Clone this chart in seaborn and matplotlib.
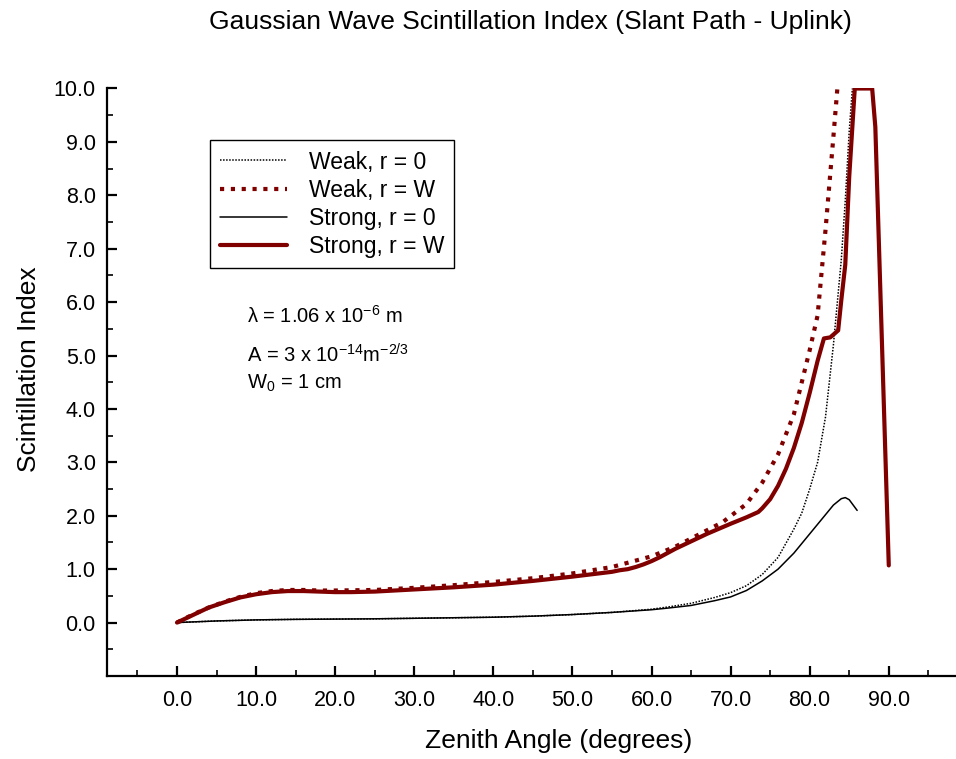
import numpy as np
import pandas as pd
import matplotlib
matplotlib.use("Agg")
import matplotlib.pyplot as plt
import seaborn as sns
from matplotlib.ticker import FixedLocator

# ---- data ----
weak0_x = [0, 5, 10, 15, 20, 25, 30, 35, 40, 45, 50, 55, 60, 62, 65, 68, 70, 72, 74, 76, 78, 79, 80, 81, 82, 83, 83.5, 84, 84.5, 85, 85.4]
weak0_y = [0, 0.03, 0.05, 0.06, 0.065, 0.07, 0.08, 0.09, 0.1, 0.12, 0.15, 0.19, 0.25, 0.29, 0.36, 0.47, 0.56, 0.69, 0.9, 1.22, 1.75, 2.05, 2.5, 3.0, 3.85, 5.2, 6.0, 6.8, 7.9, 9.2, 10.0]

weakW_x = [0, 2, 4, 6, 8, 10, 12, 14, 16, 18, 20, 25, 30, 35, 40, 45, 50, 55, 60, 63, 66, 69, 72, 74, 76, 78, 80, 81, 82, 83, 83.5]
weakW_y = [0, 0.15, 0.28, 0.39, 0.48, 0.55, 0.59, 0.61, 0.61, 0.6, 0.6, 0.61, 0.65, 0.7, 0.76, 0.83, 0.92, 1.04, 1.24, 1.42, 1.65, 1.88, 2.22, 2.62, 3.15, 3.9, 5.1, 5.75, 7.35, 9.1, 10.0]

strong0_x = [0, 5, 10, 15, 20, 25, 30, 35, 40, 45, 50, 55, 60, 62, 65, 68, 70, 72, 74, 76, 78, 80, 82, 83, 84, 84.5, 85, 86]
strong0_y = [0, 0.03, 0.05, 0.06, 0.065, 0.07, 0.08, 0.09, 0.1, 0.12, 0.15, 0.19, 0.24, 0.27, 0.32, 0.41, 0.48, 0.6, 0.78, 1.0, 1.3, 1.66, 2.02, 2.2, 2.32, 2.34, 2.3, 2.1]

strongW_x = [0, 2, 4, 6, 8, 10, 12, 14, 16, 18, 20, 22, 25, 30, 35, 40, 45, 50, 55, 56, 57, 58, 59, 60, 61, 62, 63, 65, 67, 70, 72, 73.5, 74, 75, 76, 77, 78, 79, 80, 81, 81.8, 82.6, 83.6, 84, 84.5, 85, 85.7, 87.9, 88.3, 90]
strongW_y = [0, 0.14, 0.28, 0.38, 0.47, 0.53, 0.57, 0.59, 0.59, 0.58, 0.57, 0.57, 0.58, 0.62, 0.66, 0.71, 0.78, 0.86, 0.95, 0.98, 1.0, 1.04, 1.09, 1.15, 1.22, 1.3, 1.38, 1.52, 1.66, 1.85, 1.97, 2.07, 2.14, 2.31, 2.56, 2.88, 3.27, 3.74, 4.3, 4.9, 5.32, 5.34, 5.47, 6.04, 6.7, 8.35, 10.0, 10.0, 9.28, 1.07]

series_names = ["Weak, r = 0", "Weak, r = W", "Strong, r = 0", "Strong, r = W"]
x_ticks = [0, 10, 20, 30, 40, 50, 60, 70, 80, 90]
y_ticks = [0, 1, 2, 3, 4, 5, 6, 7, 8, 9, 10]

# ---- style ----
sns.set_style("ticks")
plt.rcParams["font.family"] = ["Liberation Sans", "DejaVu Sans"]
plt.rcParams["mathtext.fontset"] = "custom"
plt.rcParams["mathtext.rm"] = "Liberation Sans"
plt.rcParams["mathtext.it"] = "Liberation Sans:italic"
plt.rcParams["mathtext.bf"] = "Liberation Sans:bold"
for k in ["text.color", "axes.labelcolor", "xtick.color", "ytick.color", "axes.edgecolor"]:
    plt.rcParams[k] = "black"

DARKRED = "#800000"

fig = plt.figure(figsize=(9.56, 7.59), dpi=100)
ax = fig.add_axes([0.1119, 0.1094, 0.8881, 0.774])

frames = []
for name, xs, ys in [(series_names[0], weak0_x, weak0_y),
                     (series_names[1], weakW_x, weakW_y),
                     (series_names[2], strong0_x, strong0_y),
                     (series_names[3], strongW_x, strongW_y)]:
    frames.append(pd.DataFrame({"angle": xs, "index": ys, "series": name}))
df = pd.concat(frames, ignore_index=True)

styles = {
    series_names[0]: dict(color="black", lw=1.1, ls=(0, (1, 1))),
    series_names[1]: dict(color=DARKRED, lw=3.0, ls=(0, (1, 1.6))),
    series_names[2]: dict(color="black", lw=1.1, ls="-"),
    series_names[3]: dict(color=DARKRED, lw=3.0, ls="-"),
}
for name in series_names:
    st = styles[name]
    sns.lineplot(data=df[df["series"] == name], x="angle", y="index", ax=ax,
                 color=st["color"], linewidth=st["lw"], linestyle=st["ls"],
                 label=name, sort=False, estimator=None)

ax.set_xlim(-8.85, 98.5)
ax.set_ylim(-1.0, 10.0)
for s in ["top", "right"]:
    ax.spines[s].set_visible(False)
for s in ["left", "bottom"]:
    ax.spines[s].set_linewidth(1.6)

ax.xaxis.set_major_locator(FixedLocator(x_ticks))
ax.set_xticklabels([f"{v:.1f}" for v in x_ticks])
ax.xaxis.set_minor_locator(FixedLocator(list(np.arange(-5, 100, 10))))
ax.yaxis.set_major_locator(FixedLocator(y_ticks))
ax.set_yticklabels([f"{v:.1f}" for v in y_ticks])
ax.yaxis.set_minor_locator(FixedLocator(list(np.arange(-0.5, 10, 1.0))))

ax.tick_params(which="major", direction="in", length=7, width=1.6, labelsize=15.5, pad=10, color="black")
ax.tick_params(which="minor", direction="in", length=4, width=1.2, color="black")
ax.tick_params(axis="y", pad=8)

ax.set_xlabel("Zenith Angle (degrees)", fontsize=19)
ax.xaxis.set_label_coords(0.5318, -0.09, transform=ax.transAxes)
ax.set_ylabel("Scintillation Index", fontsize=19)
ax.yaxis.set_label_coords(-0.078, 0.522, transform=ax.transAxes)
fig.suptitle("Gaussian Wave Scintillation Index (Slant Path - Uplink)", fontsize=19, x=0.555, y=0.987)

leg = ax.legend(loc="upper left", bbox_to_anchor=(0.1213, 0.912), borderaxespad=0, fontsize=16.5,
                frameon=True, fancybox=False, edgecolor="black", framealpha=1,
                handlelength=2.9, handletextpad=0.95, borderpad=0.45, labelspacing=0.22)
leg.get_frame().set_linewidth(1.0)

ax.text(8.8, 5.74, "λ = 1.06 x 10$^{\\mathrm{-6}}$ m", fontsize=14.5, va="center", ha="left")
ax.text(8.8, 5.02, "A = 3 x 10$^{\\mathrm{-14}}$m$^{\\mathrm{-2/3}}$", fontsize=14.5, va="center", ha="left")
ax.text(8.8, 4.48, "W$_{\\mathrm{0}}$ = 1 cm", fontsize=14.5, va="center", ha="left")

fig.savefig("out.png", dpi=100)
